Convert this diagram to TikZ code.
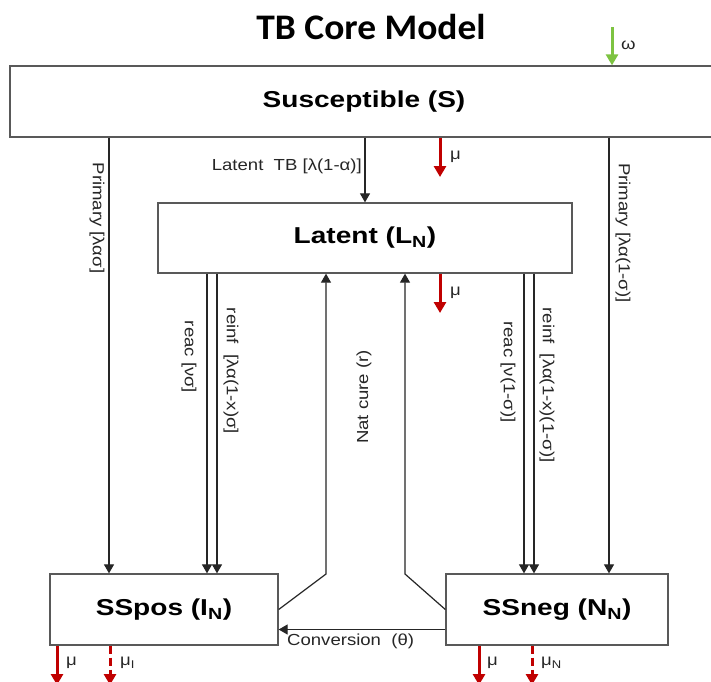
\documentclass[tikz,border=0pt]{standalone}
\usepackage{graphicx}
\usepackage{fontspec}
\setmainfont{Liberation Sans}
\newfontfamily\titlefont{Carlito}
\usetikzlibrary{arrows.meta}
\definecolor{mortred}{RGB}{192,0,0}
\definecolor{inflow}{RGB}{125,195,65}
\newcommand{\wtx}[1]{\scalebox{1.16}[1]{#1}}
\newcommand{\wbx}[1]{\scalebox{1.22}[1]{#1}}
\begin{document}
\begin{tikzpicture}[x=1pt,y=-1pt,
  box/.style={draw=black!65, line width=1.3pt, fill=white, inner sep=0pt, font=\fontsize{23}{27}\selectfont\bfseries},
  arr/.style={draw=black!85, line width=1.2pt, -{Triangle[width=10pt,length=9pt]}},
  mort/.style={draw=mortred, line width=3pt, -{Triangle[width=12pt,length=11pt]}},
  inarr/.style={draw=inflow, line width=3pt, -{Triangle[width=12pt,length=11pt]}},
  lbl/.style={font=\fontsize{16}{18}\selectfont, text=black!85, inner sep=0pt},
]
\useasboundingbox (0,0) rectangle (711,681);
\fill[white] (0,0) rectangle (711,681);

\node[font=\titlefont\bfseries\fontsize{36}{42}\selectfont] (title) at (371,27) {\scalebox{1.04}[1]{TB Core Model}};

\node[box, minimum width=708pt, minimum height=71pt] (S) at (364,101.5) {\wbx{Susceptible (S)}};
\node[box, minimum width=414pt, minimum height=70pt] (L) at (365,238) {\wbx{Latent (L\textsubscript{N})}};
\node[box, minimum width=228pt, minimum height=71pt] (I) at (164,609.5) {\wbx{SSpos (I\textsubscript{N})}};
\node[box, minimum width=222pt, minimum height=71pt] (N) at (557,609.5) {\wbx{SSneg (N\textsubscript{N})}};

\coordinate (xPL) at (109,0);
\coordinate (xR1) at (207,0);
\coordinate (xR2) at (217,0);
\coordinate (xNL) at (326,0);
\coordinate (xNR) at (405,0);
\coordinate (xR3) at (524,0);
\coordinate (xR4) at (534,0);
\coordinate (xPR) at (609,0);
\coordinate (xLT) at (365,0);
\coordinate (xMu) at (440,0);
\coordinate (kL) at (326,574);
\coordinate (kR) at (405,574);

% flows
\draw[arr] (S.south -| xPL) -- (I.north -| xPL);
\draw[arr] (L.south -| xR1) -- (I.north -| xR1);
\draw[arr] (L.south -| xR2) -- (I.north -| xR2);
\draw[arr] (L.south -| xR3) -- (N.north -| xR3);
\draw[arr] (L.south -| xR4) -- (N.north -| xR4);
\draw[arr] (S.south -| xPR) -- (N.north -| xPR);
\draw[arr] (S.south -| xLT) -- (L.north -| xLT);
\draw[arr] (I.east) -- (kL) -- (L.south -| kL);
\draw[arr] (N.west) -- (kR) -- (L.south -| kR);
\draw[arr] ([yshift=-20pt]N.west) -- ([yshift=-20pt]I.east);

% inflow
\coordinate (wTop) at (612,27);
\draw[inarr] (wTop) -- (S.north -| wTop);
\node[lbl, anchor=west] (tW) at (621,45) {\wtx{ω}};

% mortality
\coordinate (m1) at (440,177);
\coordinate (m2) at (440,313);
\draw[mort] (S.south -| xMu) -- (m1);
\draw[mort] (L.south -| xMu) -- (m2);
\node[lbl, anchor=west] (tM1) at (450,157) {\wtx{μ}};
\node[lbl, anchor=west] (tM2) at (450,293) {\wtx{μ}};

\coordinate (b1) at (57,685);
\coordinate (b2) at (110,685);
\coordinate (b3) at (479,685);
\coordinate (b4) at (532,685);
\draw[mort] (I.south -| b1) -- (b1);
\draw[mort, dashed, dash pattern=on 8pt off 4pt] (I.south -| b2) -- (b2);
\draw[mort] (N.south -| b3) -- (b3);
\draw[mort, dashed, dash pattern=on 8pt off 4pt] (N.south -| b4) -- (b4);
\node[lbl, anchor=west] (tB1) at (66,663) {\wtx{μ}};
\node[lbl, anchor=west] (tB2) at (120,663) {\wtx{μ\textsubscript{I}}};
\node[lbl, anchor=west] (tB3) at (487,663) {\wtx{μ}};
\node[lbl, anchor=west] (tB4) at (541,663) {\wtx{μ\textsubscript{N}}};

% labels
\node[lbl, rotate=-90] (tPL) at (97,218) {\wtx{Primary [λασ]}};
\node[lbl, rotate=-90] (tRa) at (189,357) {\wtx{reac [νσ]}};
\node[lbl, rotate=-90] (tRi) at (231,371) {\wtx{reinf\ \ [λα(1-x)σ]}};
\node[lbl, rotate=-90] (tPR) at (623,233) {\wtx{Primary [λα(1-σ)]}};
\node[lbl, rotate=-90] (tRa2) at (508,372) {\wtx{reac [ν(1-σ)]}};
\node[lbl, rotate=-90] (tRi2) at (547,385) {\wtx{reinf\ \ [λα(1-x)(1-σ)]}};
\node[lbl, rotate=90] (tNC) at (364,397) {\wtx{Nat cure (r)}};
\node[lbl, anchor=east] (tLT) at (362,166) {\wtx{Latent\ \ TB [λ(1-α)]}};
\node[lbl, anchor=west] (tCv) at (287,641) {\wtx{Conversion\ \ (θ)}};
\end{tikzpicture}
\end{document}
